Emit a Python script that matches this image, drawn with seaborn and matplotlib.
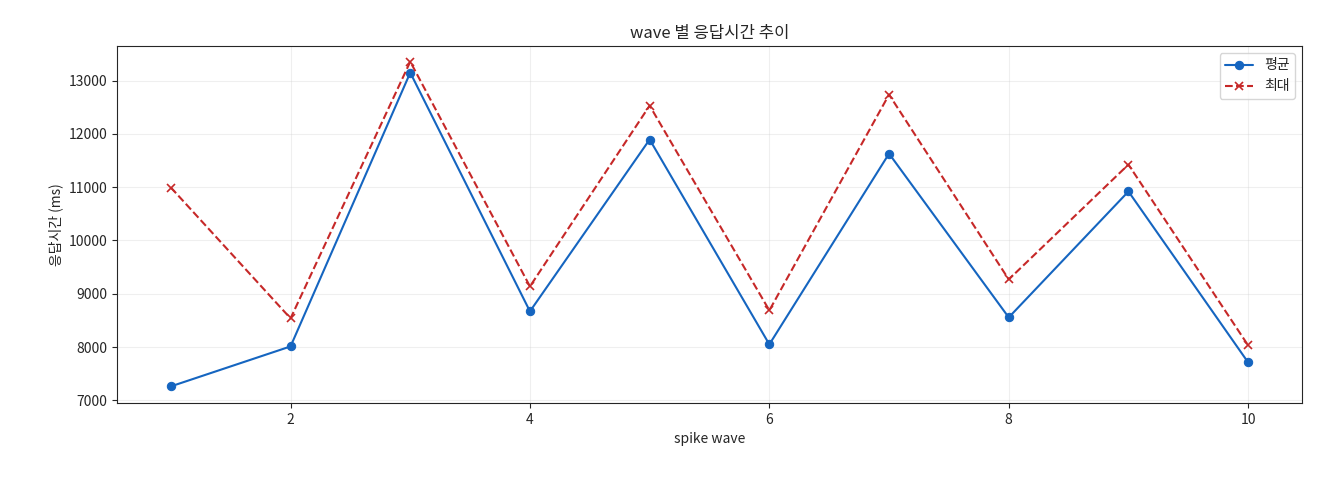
import matplotlib
matplotlib.use("Agg")
import matplotlib.pyplot as plt
import seaborn as sns
import pandas as pd

waves = [1, 2, 3, 4, 5, 6, 7, 8, 9, 10]
avg_ms = [7262, 8012, 13150, 8670, 11895, 8050, 11630, 8556, 10920, 7712]
max_ms = [10994, 8538, 13356, 9138, 12531, 8688, 12738, 9269, 11425, 8031]

sns.set_style("ticks")
plt.rcParams['font.family'] = ['Noto Sans CJK KR', 'DejaVu Sans']
plt.rcParams['axes.unicode_minus'] = False

df = pd.DataFrame({"wave": waves, "avg": avg_ms, "max": max_ms})
fig = plt.figure(figsize=(13.2, 4.8), dpi=100)
ax = fig.add_axes([117/1320, 1-403/480, (1302-117)/1320, (403-46)/480])
sns.lineplot(data=df, x="wave", y="avg", ax=ax, color="#1565C0", marker="o",
             markersize=6, markeredgecolor="#1565C0", linewidth=1.5)
sns.lineplot(data=df, x="wave", y="max", ax=ax, color="#C62828", marker="x",
             markersize=6, markeredgecolor="#C62828", markeredgewidth=1.2,
             linewidth=1.5)
l1, l2 = ax.lines[0], ax.lines[1]
l2.set_linestyle("--")
l2.set_markeredgecolor("#C62828")
ax.grid(True, alpha=0.3)
ax.set_title("wave 별 응답시간 추이", fontsize=12)
ax.set_xlabel("spike wave", fontsize=10)
ax.set_ylabel("응답시간 (ms)", fontsize=10)
ax.set_yticks(range(7000, 14000, 1000))
ax.set_ylim(6950, 13650)
ax.tick_params(labelsize=10)
ax.legend([l1, l2], ["평균", "최대"], loc="upper right", fontsize=10)
fig.savefig("out.png", dpi=100)
